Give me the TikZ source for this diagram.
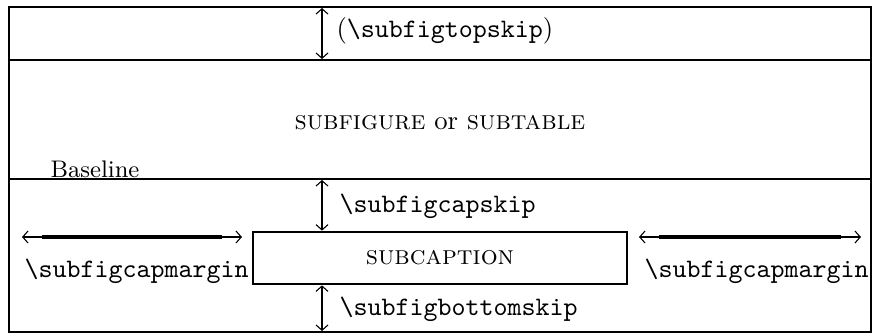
\documentclass[tikz,border=0pt]{standalone}
\usetikzlibrary{arrows.meta}

\begin{document}
\begin{tikzpicture}[x=.375pt,y=-.375pt,>={Straight Barb[length=2pt,width=4.5pt]}]
      \useasboundingbox (0,0) rectangle (874,333);

      \draw [line width=1.1pt] (9,7) rectangle (871,332);
      \draw [line width=1.1pt] (9,60) -- (871,60);
      \draw [line width=1.1pt] (9,179) -- (871,179);

      \node [anchor=base west, inner sep=0] (topskip) at (336,37) {(\texttt{\textbackslash subfigtopskip})};
      \node (body) at (440,123) {\textsc{subfigure} or \textsc{subtable}};
      \node [anchor=base west, inner sep=0, font=\small] (baseline) at (50,177) {Baseline};

      \node [draw, line width=1pt, minimum width=140.25pt, minimum height=19.5pt] (cap) at (440,258) {\textsc{subcaption}};
      \node [anchor=base west, inner sep=0] (capskip) at (339,212) {\texttt{\textbackslash subfigcapskip}};
      \node [anchor=base west, inner sep=0] (botskip) at (339,315) {\texttt{\textbackslash subfigbottomskip}};
      \node [anchor=base west, inner sep=0] (lmargin) at (24,277) {\texttt{\textbackslash subfigcapmargin}};
      \node [anchor=base west, inner sep=0] (rmargin) at (644,277) {\texttt{\textbackslash subfigcapmargin}};

      \coordinate (ts) at (322,8);
      \coordinate (cs) at (322,180);
      \coordinate (bs) at (322,331);
      \draw [<->, line width=.4pt] (ts) -- (322,59);
      \draw [<->, line width=.4pt] (cs) -- (cs |- cap.north);
      \draw [<->, line width=.4pt] (cs |- cap.south) -- (bs);

      \coordinate (lm) at (22,237);
      \coordinate (rm) at (639,237);
      \draw [<->, line width=.4pt] (lm) -- +(220,0);
      \draw [line width=1.2pt] ([xshift=20*.375pt]lm) -- +(180,0);
      \draw [<->, line width=.4pt] (rm) -- +(222,0);
      \draw [line width=1.2pt] ([xshift=20*.375pt]rm) -- +(182,0);
\end{tikzpicture}
\end{document}
